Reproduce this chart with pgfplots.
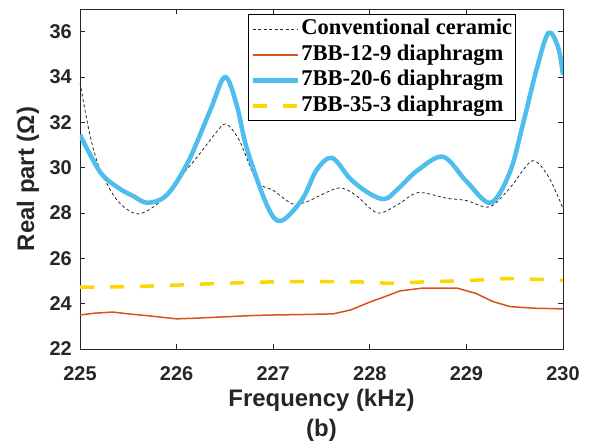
\documentclass[border=0pt]{standalone}
\usepackage{fontspec}
\setmainfont{Liberation Serif}
\setsansfont{Liberation Sans}
\usepackage{pgfplots}
\pgfplotsset{compat=1.18}
\definecolor{mblue}{RGB}{77,190,238}
\definecolor{morange}{RGB}{217,83,25}
\definecolor{myellow}{RGB}{255,215,0}
\definecolor{axgray}{RGB}{38,38,38}
\begin{document}
\begin{tikzpicture}
\useasboundingbox (-80bp,-93bp) rectangle (509bp,349bp);
\begin{axis}[
  at={(0,0)}, anchor=south west,
  scale only axis, width=483bp, height=340bp,
  xmin=225, xmax=230, ymin=22, ymax=37,
  xtick={225,226,227,228,229,230},
  ytick={22,24,26,28,30,32,34,36},
  tick align=inside, major tick length=5bp,
  axis line style={axgray, line width=0.8bp},
  every tick/.style={axgray, line width=0.8bp},
  /pgf/number format/assume math mode=true,
  /pgf/number format/1000 sep={},
  ticklabel style={font=\fontsize{20}{22}\selectfont\sffamily\bfseries, text=axgray, inner sep=1bp},
  xticklabel style={yshift=-16bp},
  yticklabel style={xshift=-7bp},
  xlabel={Frequency (kHz)\\(b)},
  ylabel={Real part (Ω)},
  label style={font=\fontsize{24}{30}\selectfont\sffamily\bfseries, text=axgray},
  xlabel style={align=center, inner sep=0pt, at={(axis description cs:0.5,-0.117)}, anchor=north},
  ylabel style={inner sep=0pt, at={(axis description cs:-0.108,0.5)}, anchor=center, rotate=0},
  legend image code/.code={\draw[#1] (0bp,0bp) -- (45bp,0bp);},
  legend style={at={(0.348,0.985)}, anchor=north west,
    font=\fontsize{22.6}{24}\selectfont\rmfamily\bfseries,
    draw=black, line width=0.8bp, inner sep=2bp,
    nodes={inner sep=1.3bp, text height=17bp, text depth=6bp},
    cells={anchor=west}},
  legend cell align=left,
]
\addplot[black!85, line width=0.8bp, dash pattern=on 3bp off 2.5bp, smooth, tension=0.5] coordinates {
(225.0,33.75) (225.1,31.5) (225.2,30.0) (225.38,28.58) (225.59,27.96)
(225.8,28.4) (226.0,29.4) (226.2,30.4) (226.4,31.5) (226.51,31.93)
(226.65,31.2) (226.83,29.4) (227.0,29.0) (227.2,28.4) (227.35,28.5)
(227.67,29.1) (227.85,28.8) (228.08,28.0) (228.3,28.4) (228.5,28.9)
(228.8,28.65) (229.0,28.55) (229.24,28.27) (229.45,29.1) (229.68,30.3)
(229.85,29.6) (230.0,28.2)};
\addlegendentry{Conventional ceramic}
\addplot[morange, line width=1.5bp] coordinates {
(225.0,23.5) (225.15,23.58) (225.34,23.63) (225.5,23.55) (225.7,23.47)
(226.0,23.33) (226.2,23.36) (226.5,23.42) (226.8,23.48) (227.0,23.5)
(227.3,23.52) (227.62,23.55) (227.8,23.72) (228.0,24.07) (228.15,24.3)
(228.31,24.56) (228.55,24.69) (228.9,24.69) (229.1,24.45) (229.27,24.1)
(229.45,23.87) (229.7,23.8) (230.0,23.77)};
\addlegendentry{7BB-12-9 diaphragm}
\addplot[mblue, line width=4.5bp, smooth, tension=0.55] coordinates {
(225.0,31.45) (225.21,29.8) (225.4,29.1) (225.55,28.75) (225.7,28.45)
(225.9,28.8) (226.12,30.26) (226.35,32.55) (226.5,34.0) (226.62,32.8)
(226.73,30.8) (226.94,28.3) (227.08,27.65) (227.3,28.6) (227.45,29.9)
(227.61,30.43) (227.8,29.5) (228.0,28.85) (228.16,28.62) (228.3,29.1)
(228.5,29.9) (228.76,30.48) (229.0,29.4) (229.25,28.45) (229.45,29.8)
(229.59,32.0) (229.73,34.4) (229.85,35.95) (229.95,35.3) (230.0,34.1)};
\addlegendentry{7BB-20-6 diaphragm}
\addplot[myellow, line width=3.5bp, dash pattern=on 14bp off 16bp, smooth] coordinates {
(225.0,24.73) (225.5,24.75) (226.0,24.82) (226.5,24.9) (227.0,24.96)
(227.5,24.97) (228.0,24.95) (228.2,24.9) (228.5,24.95) (229.0,25.02)
(229.4,25.1) (229.7,25.08) (230.0,25.02)};
\addlegendentry{7BB-35-3 diaphragm}
\end{axis}
\end{tikzpicture}
\end{document}
